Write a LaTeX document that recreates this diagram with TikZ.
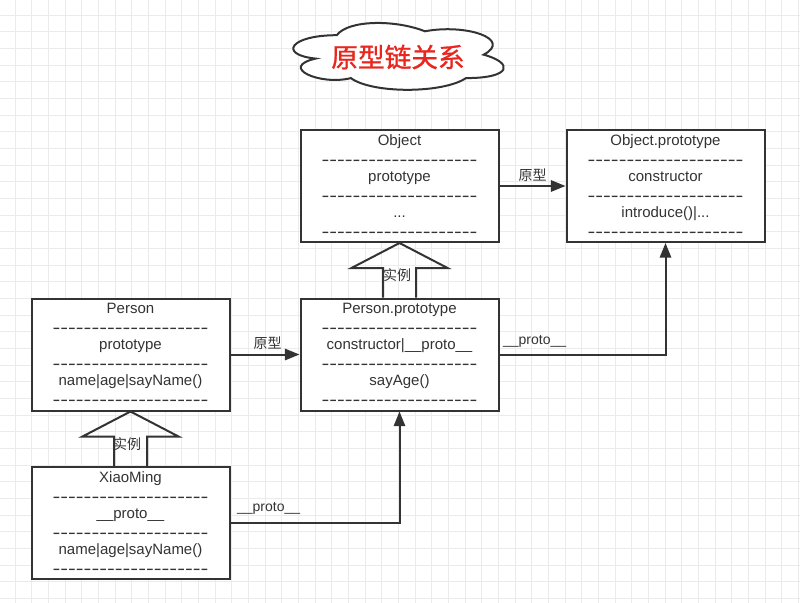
\documentclass[tikz,border=0pt]{standalone}
\usepackage{graphicx}
\usepackage{fontspec}
\setmainfont{Liberation Sans}
\newfontfamily\cjk{Noto Sans CJK SC}
\newfontfamily\cjktitle{Noto Sans CJK SC}[FakeBold=1]
\newfontfamily\dashfont{Liberation Sans}
\usetikzlibrary{arrows.meta,calc}
\definecolor{linecol}{HTML}{333333}
\definecolor{textcol}{HTML}{333333}
\definecolor{gridcol}{HTML}{EBEBEB}
\definecolor{titlered}{HTML}{E8261E}
\newcommand\dashrow{\raisebox{-1pt}{\scalebox{1.35}[1]{\dashfont\fontsize{13pt}{13.5pt}\selectfont --------------------}}}
\tikzset{
  umlbox/.style={draw=linecol, line width=1.5pt, fill=white, minimum width=148.5pt,
    minimum height=84pt, inner sep=0pt, align=center, text=textcol,
    font=\fontsize{11.25pt}{13.5pt}\selectfont},
  conn/.style={draw=linecol, line width=1.5pt, -{Triangle[length=11pt,width=8.5pt]}},
  lbl/.style={text=textcol, font=\fontsize{10.5pt}{12pt}\selectfont, inner sep=1pt},
  blockarrow/.style={draw=linecol, line width=1.5pt, line join=miter},
  gridline/.style={draw=gridcol, line width=0.75pt},
  cloudline/.style={draw=linecol, line width=1.5pt, fill=white},
}
\begin{document}
\begin{tikzpicture}[x=0.75pt,y=-0.75pt]
\useasboundingbox (0,0) rectangle (800,603);
\fill[white] (0,0) rectangle (800,603);
% grid
\foreach \i in {0,...,47} { \draw[gridline] ({15+\i*16.6667},0) -- ({15+\i*16.6667},603); }
\foreach \i in {0,...,35} { \draw[gridline] (0,{15+\i*16.6667}) -- (800,{15+\i*16.6667}); }

% cloud title
\draw[cloudline] (336.75,35.2)
  .. controls (289.75,35.2) and (278,54.7) .. (315.6,58.6)
  .. controls (278,67.2) and (320.3,85.9) .. (350.85,78.1)
  .. controls (372,93.7) and (442.5,93.7) .. (466,78.1)
  .. controls (513,78.1) and (513,62.5) .. (483.6,54.7)
  .. controls (513,39.1) and (466,23.5) .. (424.9,31.3)
  .. controls (395.5,19.6) and (348.5,19.6) .. (336.75,35.2) -- cycle;
\node[text=titlered, font=\cjktitle\fontsize{20pt}{24pt}\selectfont] (title) at (398,57) {原型链关系};

% boxes
\node[umlbox] (obj) at (399.5,186) {Object\\\dashrow\\prototype\\\dashrow\\...\\\dashrow};
\node[umlbox] (objp) at (665.5,186) {Object.prototype\\\dashrow\\constructor\\\dashrow\\introduce()|...\\\dashrow};
\node[umlbox] (per) at (130.5,354.5) {Person\\\dashrow\\prototype\\\dashrow\\name|age|sayName()\\\dashrow};
\node[umlbox] (pp) at (399.5,354.5) {Person.prototype\\\dashrow\\constructor|\_\_proto\_\_\\\dashrow\\sayAge()\\\dashrow};
\node[umlbox] (xm) at (130.5,523) {XiaoMing\\\dashrow\\\_\_proto\_\_\\\dashrow\\name|age|sayName()\\\dashrow};

% connectors
\draw[conn] (obj.east) -- (objp.west);
\draw[conn] (per.east) -- (pp.west);
\draw[conn] (pp.east) -| (objp.south);
\draw[conn] (xm.east) -| (pp.south);

\node[lbl] (lab1) at ($(obj.east)!0.5!(objp.west)+(0,-11)$) {\cjk 原型};
\node[lbl] (lab2) at ($(per.east)!0.5!(pp.west)+(2.5,-11.5)$) {\cjk 原型};
\node[lbl, anchor=west] (lab3) at ($(xm.east)+(5,-14.5)$) {\_\_proto\_\_};
\node[lbl, anchor=west] (lab4) at ($(pp.east)+(2,-13)$) {\_\_proto\_\_};

% block arrows (instance)
\draw[blockarrow] ($(pp.north)+(-16.5,0)$) -- ($(obj.south)+(-16.5,25)$) -- ($(obj.south)+(-48,25)$)
  -- (obj.south) -- ($(obj.south)+(48,25)$) -- ($(obj.south)+(16.5,25)$) -- ($(pp.north)+(16.5,0)$);
\node[lbl] (inst1) at ($(obj.south)+(-2.5,32)$) {\cjk 实例};

\draw[blockarrow] ($(xm.north)+(-16.5,0)$) -- ($(per.south)+(-16.5,25)$) -- ($(per.south)+(-48,25)$)
  -- (per.south) -- ($(per.south)+(48,25)$) -- ($(per.south)+(16.5,25)$) -- ($(xm.north)+(16.5,0)$);
\node[lbl] (inst2) at ($(per.south)+(-3.5,32.5)$) {\cjk 实例};
\end{tikzpicture}
\end{document}
